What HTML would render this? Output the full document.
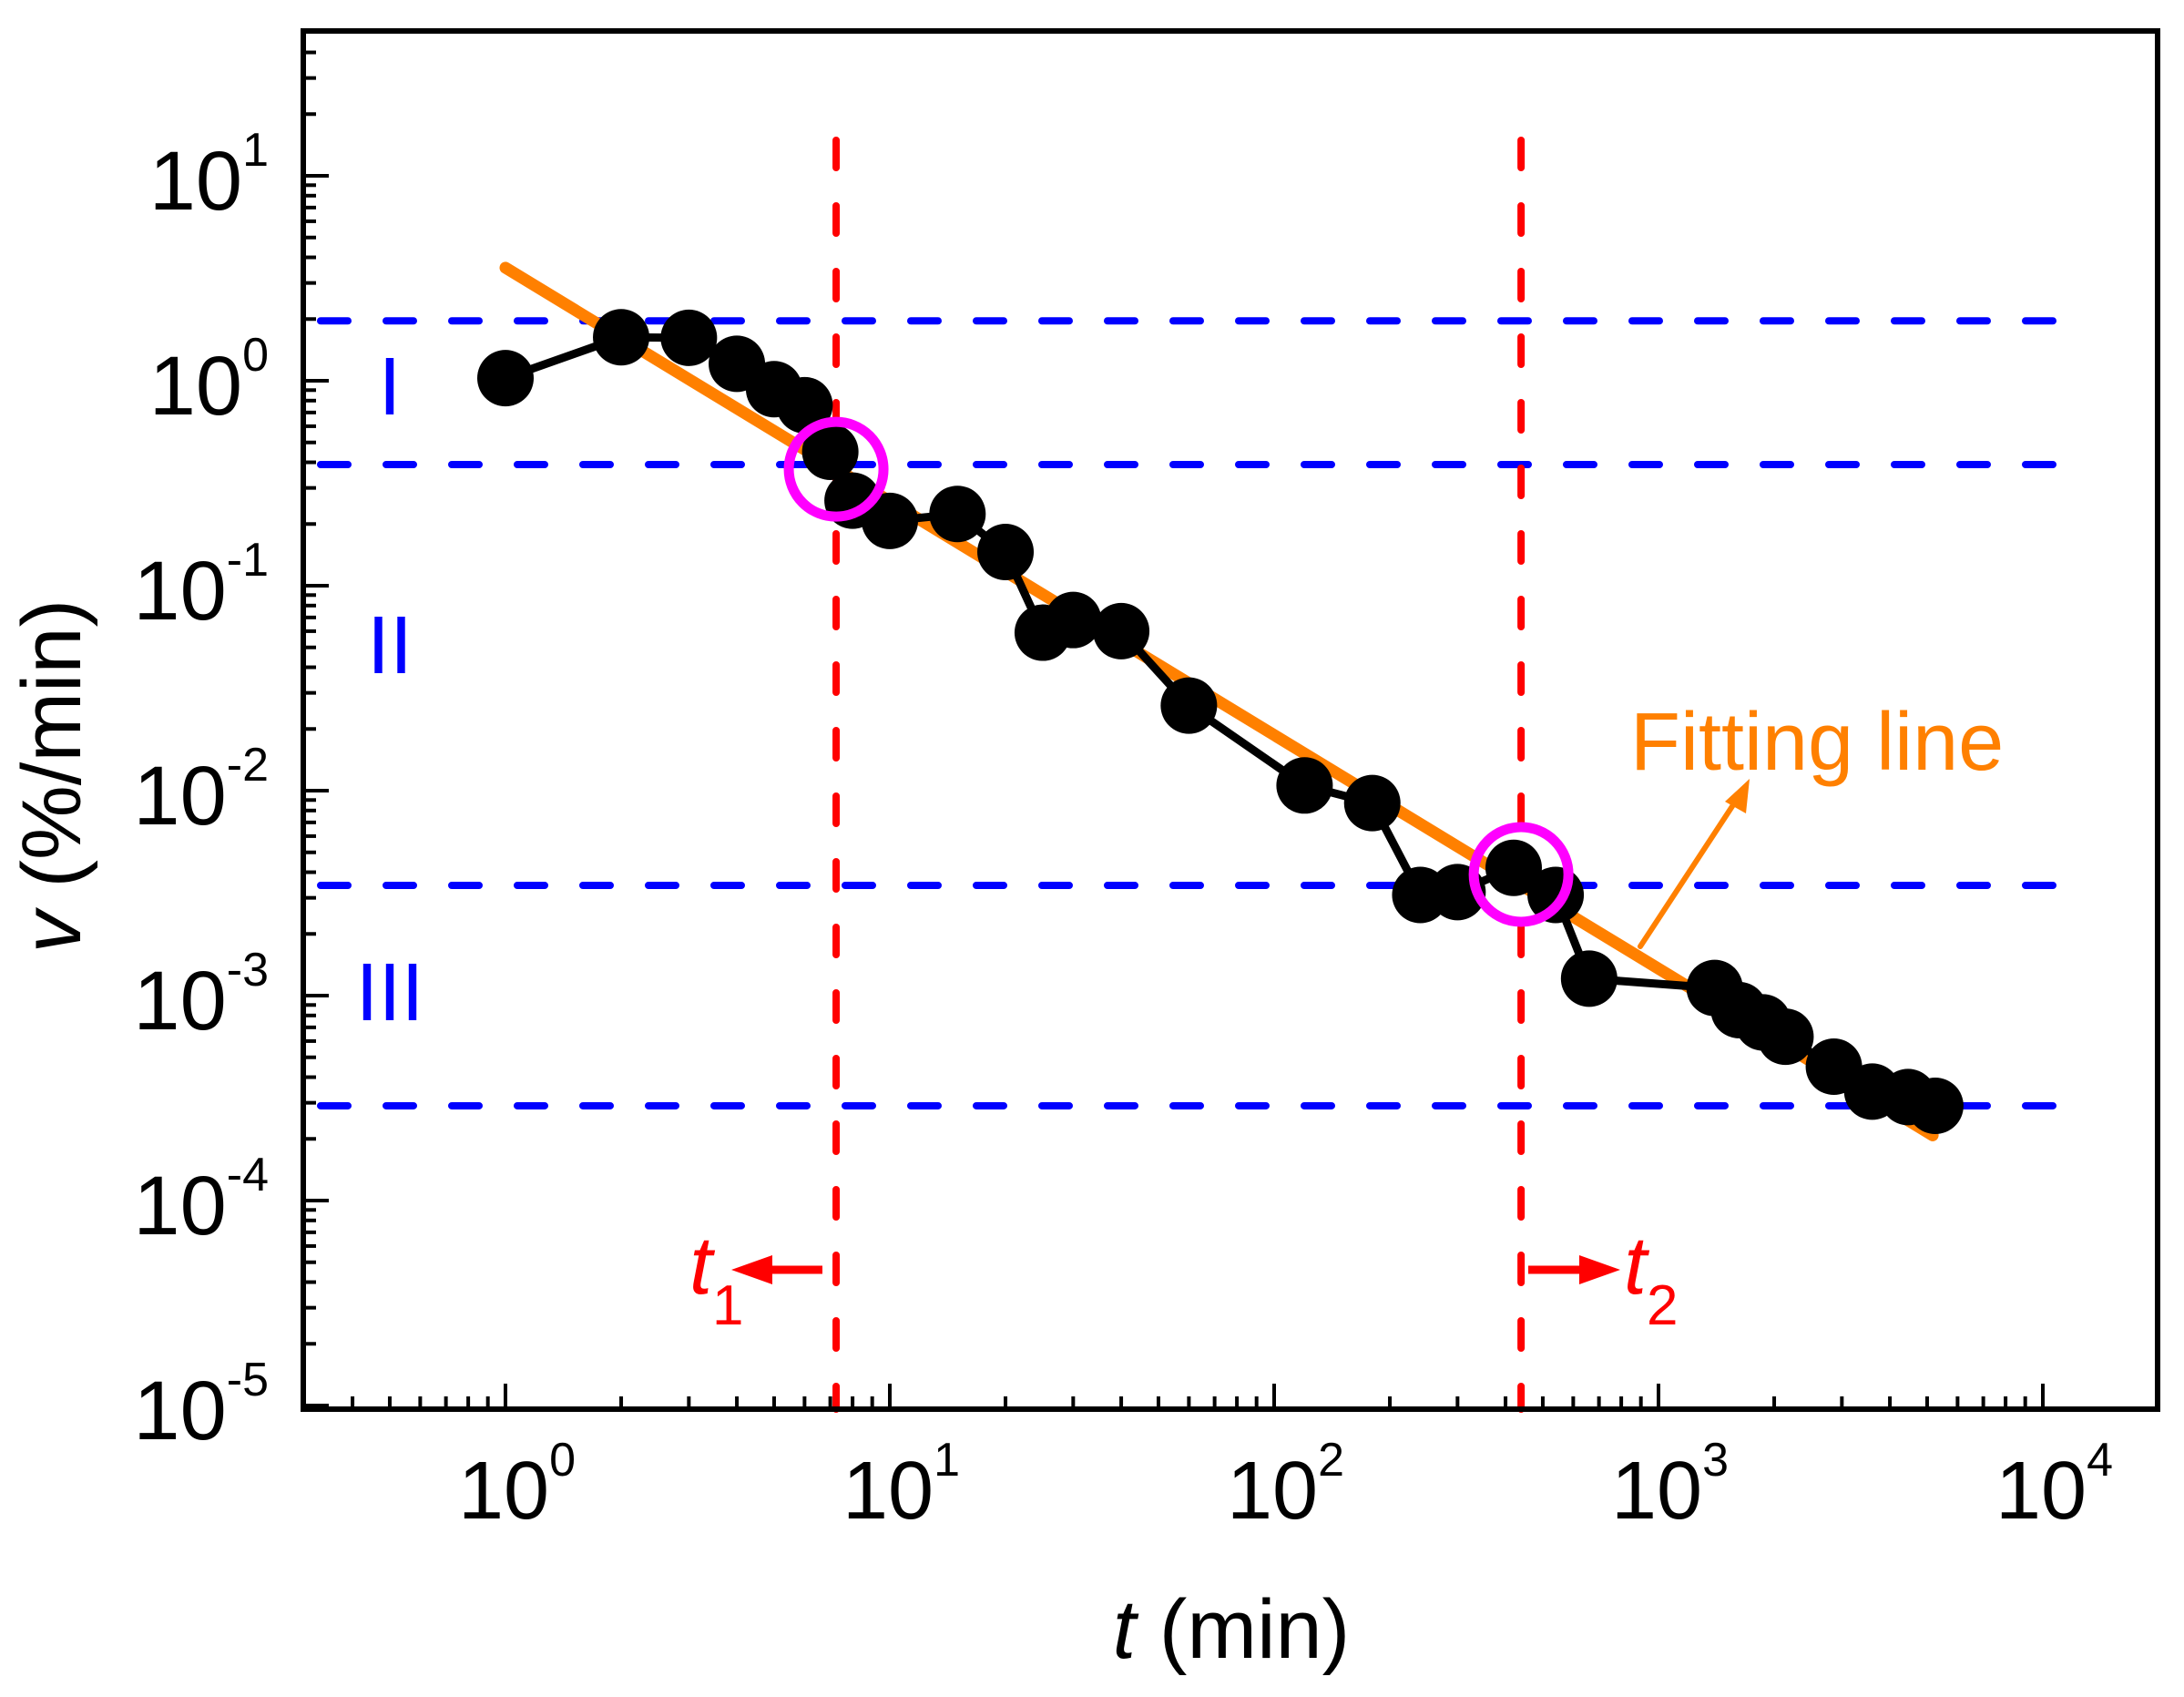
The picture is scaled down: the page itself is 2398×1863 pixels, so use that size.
<!DOCTYPE html>
<html><head><meta charset="utf-8"><style>
html,body{margin:0;padding:0;background:#fff;}
svg{display:block;font-family:"Liberation Sans",Arial,sans-serif;}
</style></head><body>
<svg id="chart" width="2398" height="1863" viewBox="0 0 2398 1863" xmlns="http://www.w3.org/2000/svg">
<rect x="0" y="0" width="2398" height="1863" fill="#fff"/>
<g id="grid"></g>
<g id="fit"></g>
<g id="series"></g>
<g id="annot"></g>
<g id="axes"></g>
</svg>
<script>
const tValues = [1,2,3,4,5,6,7,8,10,15,20,25,30,40,60,120,180,240,300,420,540,660,1400,1620,1870,2140,2860,3600,4460,5250];
const vValues = [1.03,1.63,1.62,1.21,0.91,0.76,0.45,0.26,0.207,0.224,0.146,0.059,0.068,0.06,0.026,0.0106,0.0087,0.0031,0.0032,0.0042,0.0031,0.00121,0.00109,0.00085,0.00074,0.00063,0.00045,0.00034,0.00032,0.00029];
const fitCoef = [3.56, -1.14];
const fitRange = [1, 5170];
const regionBounds = [1.96, 0.39, 0.00345, 0.00029];
const regionLabels = ["I","II","III"];
const regionLabelV = [0.95, 0.052, 0.00105];
const transitionTimes = [7.25, 439];
const circleV = [0.37, 0.0039];
const xTickExps = [0,1,2,3,4];
const yTickExps = [1,0,-1,-2,-3,-4,-5];

const NS="http://www.w3.org/2000/svg";
const L=333,R=2369,T=34,B=1547;
const X0=555,XD=422,Y0=418,YD=225;
function xs(t){return X0+XD*Math.log10(t);}
function ys(v){return Y0-YD*Math.log10(v);}
function mk(tag,attrs,parent,txt){const e=document.createElementNS(NS,tag);for(const k in attrs)e.setAttribute(k,attrs[k]);if(txt!==undefined)e.textContent=txt;parent.appendChild(e);return e;}
const grid=document.getElementById('grid'),fit=document.getElementById('fit'),series=document.getElementById('series'),annot=document.getElementById('annot'),axes=document.getElementById('axes');

regionBounds.forEach((v,i)=>{
  const e=mk('line',{x1:352,x2:2262,y1:ys(v),y2:ys(v),stroke:'#0000FF','stroke-width':8,'stroke-dasharray':'30 42','stroke-linecap':'round'},grid);
  
  
});
transitionTimes.forEach((t,i)=>{
  const e=mk('line',{x1:xs(t),x2:xs(t),y1:154,y2:B,stroke:'#FF0000','stroke-width':8,'stroke-dasharray':'30 42','stroke-linecap':'round'},grid);
  
  
});
regionLabels.forEach((s,i)=>{
  const e=mk('text',{x:428,y:ys(regionLabelV[i])+32,'font-size':90,fill:'#0000FF','text-anchor':'middle'},grid,s);
  
  
});
let d='';
tValues.forEach((t,i)=>{d+=(i?'L':'M')+xs(t).toFixed(1)+' '+ys(vValues[i]).toFixed(1);});
const sl=mk('path',{d:d,fill:'none',stroke:'#000','stroke-width':9,'stroke-linejoin':'round'},series);


tValues.forEach((t,i)=>{
  const c=mk('circle',{cx:xs(t),cy:ys(vValues[i]),r:31,fill:'#000'},series);
  
  
});
function fv(t){return fitCoef[0]*Math.pow(t,fitCoef[1]);}
const fl=mk('line',{x1:xs(fitRange[0]),y1:ys(fv(fitRange[0])),x2:xs(fitRange[1]),y2:ys(fv(fitRange[1])),stroke:'#FF8000','stroke-width':13,'stroke-linecap':'round'},fit);


transitionTimes.forEach((t,i)=>{
  const c=mk('circle',{cx:xs(t),cy:ys(circleV[i]),r:52,fill:'none',stroke:'#FF00FF','stroke-width':11},annot);
  
  
});
const ft=mk('text',{x:1790,y:845,'font-size':90,fill:'#FF8000'},annot,'Fitting line');


const fa=mk('line',{x1:1801,y1:1039,x2:1908,y2:876,stroke:'#FF8000','stroke-width':6,'stroke-linecap':'round'},annot);


mk('polygon',{points:'1921,855 1894,880 1917,893',fill:'#FF8000'},annot);
const a1=mk('g',{},annot);


mk('line',{x1:903,y1:1394,x2:830,y2:1394,stroke:'#FF0000','stroke-width':9},a1);
mk('polygon',{points:'803,1394 848,1378 848,1410',fill:'#FF0000'},a1);
const t1=mk('text',{x:757,y:1420,'font-size':90,fill:'#FF0000','font-style':'italic'},a1,'t');
mk('tspan',{dy:34,'font-size':62,'font-style':'normal'},t1,'1');
const a2=mk('g',{},annot);


mk('line',{x1:1678,y1:1394,x2:1752,y2:1394,stroke:'#FF0000','stroke-width':9},a2);
mk('polygon',{points:'1779,1394 1734,1378 1734,1410',fill:'#FF0000'},a2);
const t2=mk('text',{x:1783,y:1420,'font-size':90,fill:'#FF0000','font-style':'italic'},a2,'t');
mk('tspan',{dy:34,'font-size':62,'font-style':'normal'},t2,'2');

const fr=mk('rect',{x:L,y:T,width:R-L,height:B-T,fill:'none',stroke:'#000','stroke-width':6},axes);


for(let e=-1;e<=4;e++){for(let m=1;m<=9;m++){const t=m*Math.pow(10,e);const x=xs(t);if(x<L+3||x>R-3)continue;
  const len=m===1?28:14;
  const tk=mk('line',{x1:x,x2:x,y1:B,y2:B-len,stroke:'#000','stroke-width':4},axes);
  
  }}
xTickExps.forEach(e=>{
  const tx=mk('text',{x:xs(Math.pow(10,e))-52,y:1667,'font-size':90,fill:'#000'},axes,'10');
  mk('tspan',{dy:-47,'font-size':52},tx,String(e));
  
  
});
for(let e=-5;e<=1;e++){for(let m=1;m<=9;m++){const v=m*Math.pow(10,e);const y=ys(v);if(y<T+3||y>B-3)continue;
  const len=m===1?28:14;
  const tk=mk('line',{x1:L,x2:L+len,y1:y,y2:y,stroke:'#000','stroke-width':4},axes);
  
  }}
yTickExps.forEach(e=>{
  const y=ys(Math.pow(10,e));
  const tx=mk('text',{x:295,y:y+37,'font-size':92,fill:'#000','text-anchor':'end'},axes,'10');
  mk('tspan',{dy:-48,'font-size':52},tx,e<0?'-'+(-e):String(e));
  
  
});
const xt=mk('text',{x:1352,y:1820,'font-size':92,fill:'#000','text-anchor':'middle'},axes);
mk('tspan',{'font-style':'italic'},xt,'t');
mk('tspan',{},xt,' (min)');


const yt=mk('text',{x:0,y:0,'font-size':92,fill:'#000','text-anchor':'middle',transform:'translate(88,852) rotate(-90)'},axes);
mk('tspan',{'font-style':'italic'},yt,'v');
mk('tspan',{},yt,' (%/min)');


</script>
</body></html>
